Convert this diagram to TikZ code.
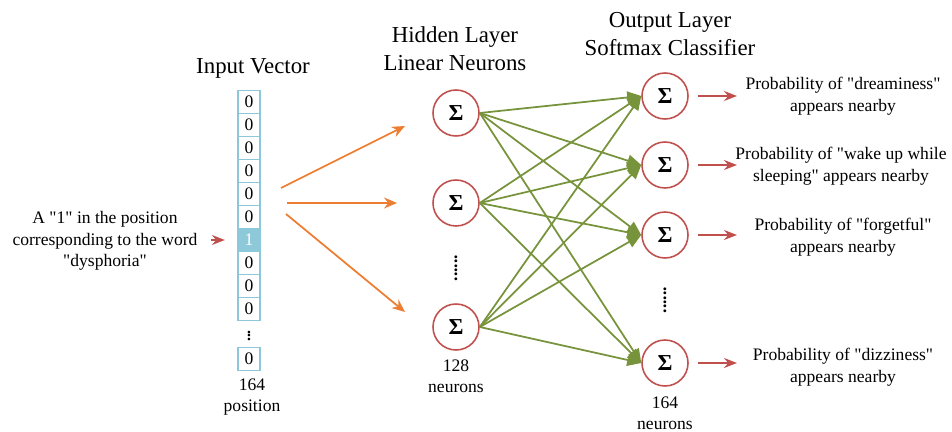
\documentclass[tikz,border=0pt]{standalone}
\usepackage{fontspec}
\setmainfont{Liberation Serif}
\usetikzlibrary{arrows.meta,positioning,calc}

\definecolor{cellblue}{HTML}{8CC8DA}
\definecolor{cellfill}{HTML}{8DC9D9}
\definecolor{neuronred}{HTML}{C0504D}
\definecolor{wireorange}{HTML}{ED7D31}
\definecolor{wiregreen}{HTML}{77933C}

\newcommand{\q}{\textquotedbl}

\begin{document}
\begin{tikzpicture}[x=0.02cm, y=-0.02cm,
          cell/.style={draw=cellblue, line width=0.9pt, minimum width=0.44cm, minimum height=0.46cm, inner sep=0pt, font=\fontsize{10}{12}\selectfont},
          hot/.style={cell, fill=cellfill, text=white},
          neuron/.style={circle, draw=neuronred, line width=0.9pt, minimum size=0.92cm, inner sep=0pt, font=\fontsize{13}{13}\selectfont\bfseries},
          lbl/.style={align=center, font=\fontsize{10}{12.2}\selectfont},
          title/.style={align=center, font=\fontsize{13}{15.9}\selectfont},
          dots/.style={rotate=90, font=\fontsize{10}{12}\selectfont\bfseries, inner sep=0pt},
          feed/.style={wireorange, line width=1pt, -{Stealth[length=2.6mm, width=2.2mm]}},
          link/.style={wiregreen, line width=1pt, -{Triangle[length=2.8mm, width=2.4mm]}},
          outp/.style={neuronred, line width=0.9pt, -{Stealth[length=2.6mm, width=2mm]}}
        ]
          \useasboundingbox (0,0) rectangle (952,432);

          % Titel
          \node[title] (tin) at (253,68) {Input Vector};
          \node[title] (thid) at (455,49) {Hidden Layer\\Linear Neurons};
          \node[title] (tout) at (670,34) {Output Layer\\Softmax Classifier};

          % Eingabevektor
          \foreach \i in {1,...,6,8,9,10}
            \node[cell] (c\i) at (249,{102+23*(\i-1)}) {0};
          \node[hot] (c7) at (249,240) {1};
          \node[dots, font=\fontsize{9}{9}\selectfont\bfseries] (cdots) at (249,336) {...};
          \node[cell] (c11) at (249,359) {0};
          \node[lbl] (cpos) at (252,397) {164\\position};

          % Wort
          \node[lbl] (word) at (105,241) {A \q1\q{} in the position\\corresponding to the word\\\q dysphoria\q};
          \draw[outp, shorten <=4pt, shorten >=7pt] (word.east |- c7) -- (c7.west);

          % Hidden layer
          \node[neuron] (h1) at (456,113) {Σ};
          \node[neuron] (h2) at (456,203) {Σ};
          \node[neuron] (h3) at (456,327) {Σ};
          \node[dots] (hdots) at (456,268) {......};
          \node[lbl] (hnum) at (456,376) {128\\neurons};

          % Output layer
          \node[neuron] (o1) at (665,96) {Σ};
          \node[neuron] (o2) at (665,165) {Σ};
          \node[neuron] (o3) at (665,235) {Σ};
          \node[dots] (odots) at (665,300) {......};
          \node[neuron] (o4) at (665,363) {Σ};
          \node[lbl] (onum) at (665,413) {164\\neurons};

          % Eingabe -> hidden (orange)
          \coordinate (f1s) at (281,188);
          \coordinate (f1e) at (405,126);
          \coordinate (f2s) at (287,203);
          \coordinate (f2e) at (397,203);
          \coordinate (f3s) at (286,214);
          \coordinate (f3e) at (405,312);
          \draw[feed] (f1s) -- (f1e);
          \draw[feed] (f2s) -- (f2e);
          \draw[feed] (f3s) -- (f3e);

          % hidden -> output (gruen)
          \foreach \h in {1,2,3}
            \foreach \o in {1,2,3,4}
              \draw[link] (h\h.east) -- (o\o.west);

          % Wahrscheinlichkeiten
          \node[lbl] (p1) at (843,96) {Probability of \q dreaminess\q\\appears nearby};
          \node[lbl] (p2) at (841,166) {Probability of \q wake up while\\sleeping\q{} appears nearby};
          \node[lbl] (p3) at (843,237) {Probability of \q forgetful\q\\appears nearby};
          \node[lbl] (p4) at (843,367) {Probability of \q dizziness\q\\appears nearby};
          \coordinate (tip) at (737,0);
          \foreach \i in {1,...,4}
            \draw[outp, shorten <=9pt*0.567] (o\i.east) -- (o\i -| tip);
        \end{tikzpicture}
\end{document}
